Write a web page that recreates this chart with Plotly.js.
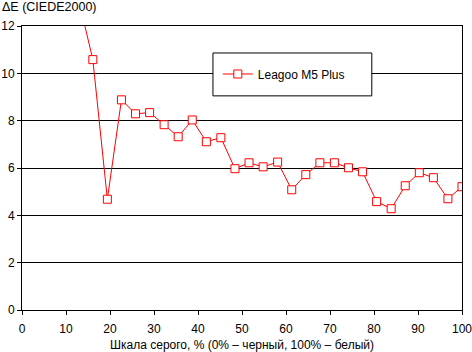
<!DOCTYPE html>
<html>
<head>
<meta charset="utf-8">
<script src="https://cdn.plot.ly/plotly-3.0.1.min.js"></script>
<style>
html,body{margin:0;padding:0;background:#fff;}
#chart{width:472px;height:352px;}
</style>
</head>
<body>
<div id="chart"></div>
<script>
// Grey level, % (0% = black, 100% = white)
const greyLevels = [0, 3.2, 6.5, 9.7, 12.9, 16.1, 19.4, 22.6, 25.8, 29.0, 32.3, 35.5, 38.7, 41.9, 45.2, 48.4,
  51.6, 54.8, 58.1, 61.3, 64.5, 67.7, 71.0, 74.2, 77.4, 80.6, 83.9, 87.1, 90.3, 93.5, 96.8, 100];
// Delta E (CIEDE2000) for Leagoo M5 Plus
const deltaE = [16.5, 15.6, 14.8, 13.9, 13.1, 10.58, 4.68, 8.88, 8.29, 8.34, 7.83, 7.32, 8.03, 7.11, 7.28, 5.97,
  6.22, 6.05, 6.25, 5.08, 5.72, 6.22, 6.22, 6.01, 5.84, 4.58, 4.28, 5.25, 5.80, 5.59, 4.70, 5.21];
const seriesName = 'Leagoo M5 Plus';
const xTickVals = [0, 10, 20, 30, 40, 50, 60, 70, 80, 90, 100];
const yTickVals = [0, 2, 4, 6, 8, 10, 12];
const xTitle = 'Шкала серого, % (0% – черный, 100% – белый)';
const yTitle = 'ΔE (CIEDE2000)';

const font = {family: 'Arial, "Liberation Sans", sans-serif', size: 12, color: '#000'};

const trace = {
  x: greyLevels,
  y: deltaE,
  name: seriesName,
  type: 'scatter',
  mode: 'lines+markers',
  line: {color: '#ff0000', width: 1},
  marker: {symbol: 'square', size: 8, color: '#ffffff', line: {color: '#ff0000', width: 1}},
  cliponaxis: true
};

const layout = {
  width: 472,
  height: 352,
  margin: {l: 22, r: 10, t: 26, b: 42},
  paper_bgcolor: '#fff',
  plot_bgcolor: '#fff',
  font: font,
  showlegend: true,
  xaxis: {
    range: [0, 100],
    tickvals: xTickVals,
    ticks: 'outside', ticklen: 4, tickcolor: '#000',
    ticklabelstandoff: 4,
    ticklabeloverflow: 'allow',
    showline: true, linecolor: '#000', linewidth: 1, mirror: true,
    showgrid: false, zeroline: false,
    title: {text: xTitle, font: font, standoff: 6},
    tickfont: font
  },
  yaxis: {
    range: [0, 12],
    tickvals: yTickVals,
    ticks: 'outside', ticklen: 4, tickcolor: '#000',
    ticklabeloverflow: 'allow',
    showline: true, linecolor: '#000', linewidth: 1, mirror: true,
    showgrid: true, gridcolor: '#000', gridwidth: 1, zeroline: false,
    tickfont: font
  },
  shapes: [{
    type: 'rect', xref: 'paper', yref: 'paper',
    x0: 0.434, x1: 0.795, y0: 0.754, y1: 0.905,
    fillcolor: '#fff', line: {color: '#000', width: 1}, layer: 'above'
  }],
  legend: {
    x: 0.445, y: 0.831, xanchor: 'left', yanchor: 'middle',
    bgcolor: 'rgba(0,0,0,0)', borderwidth: 0, font: font
  },
  annotations: [{
    text: yTitle, xref: 'paper', yref: 'paper',
    x: -22 / 440, y: 1 + 19 / 284, xanchor: 'left', yanchor: 'middle',
    showarrow: false, font: {family: font.family, size: 12.5, color: '#000'}
  }]
};

Plotly.newPlot('chart', [trace], layout, {displayModeBar: false, staticPlot: true});
</script>
</body>
</html>
